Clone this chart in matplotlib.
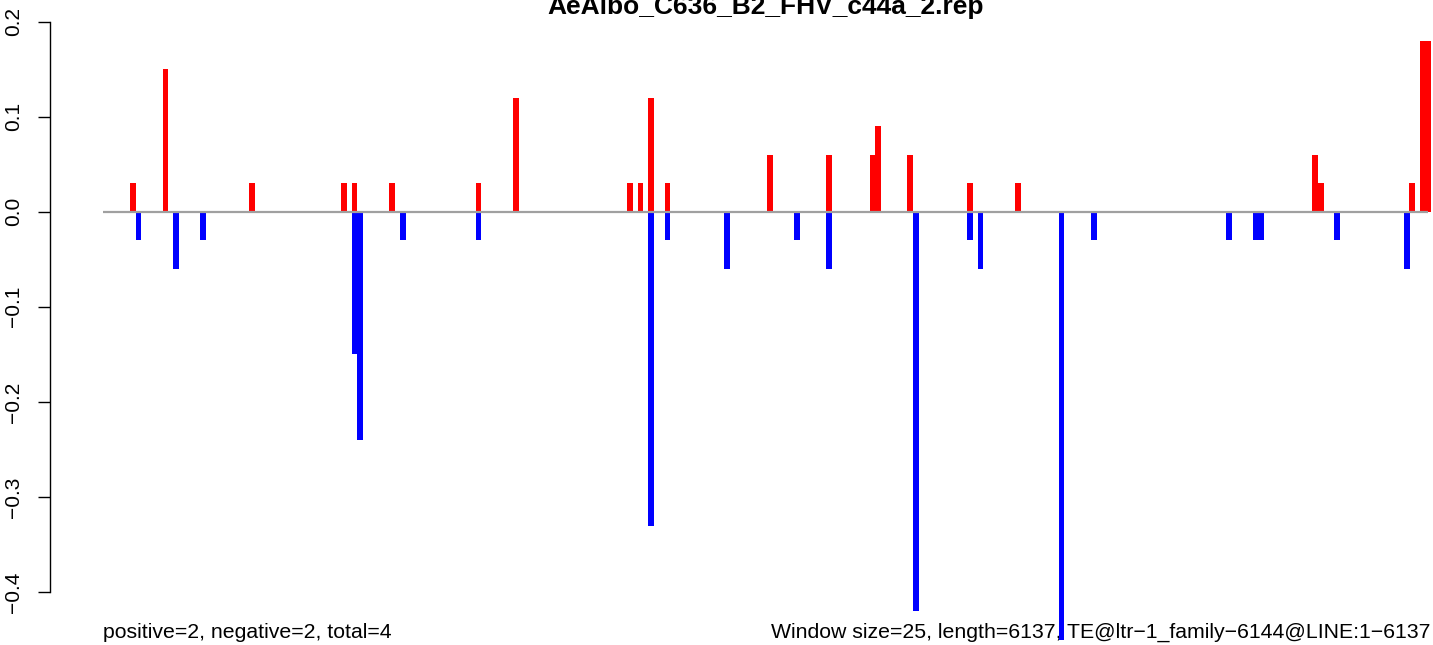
import matplotlib
matplotlib.use('Agg')
import matplotlib.pyplot as plt


# Sequence / window info
seq_length = 6137
window = 25
n_windows = 246

# window index (0-based) and value of each non-empty window
pos_idx = [5, 11, 27, 44, 46, 53, 69, 76, 97, 99, 101, 104, 123, 134, 142, 143,
           149, 160, 169, 224, 225, 242, 244, 245]
pos_val = [0.03, 0.15, 0.03, 0.03, 0.03, 0.03, 0.03, 0.12, 0.03, 0.03, 0.12, 0.03,
           0.06, 0.06, 0.06, 0.09, 0.06, 0.03, 0.03, 0.06, 0.03, 0.03, 0.18, 0.18]

neg_idx = [6, 13, 18, 46, 47, 55, 69, 101, 104, 115, 128, 134, 150, 160, 162, 177,
           183, 208, 213, 214, 228, 241]
neg_val = [-0.03, -0.06, -0.03, -0.15, -0.24, -0.03, -0.03, -0.33, -0.03, -0.06,
           -0.03, -0.06, -0.42, -0.03, -0.06, -0.45, -0.03, -0.03, -0.03, -0.03,
           -0.03, -0.06]

yticks = [-0.4, -0.3, -0.2, -0.1, 0.0, 0.1, 0.2]

title = 'AeAlbo_C636_B2_FHV_c44a_2.rep'
left_note = 'positive=2, negative=2, total=4'
right_note = ('Window size=25, length=6137, '
              'TE@ltr\u22121_family\u22126144@LINE:1\u22126137')

plt.rcParams['font.family'] = ['Liberation Sans', 'DejaVu Sans']

W, H = 1433, 645
fig = plt.figure(figsize=(W / 100, H / 100), dpi=100)
# plot region runs past the right edge of the picture (cropped R output)
ax = fig.add_axes([50 / W, 0, (1481 - 50) / W, 1])

pad = 0.04 * seq_length
ax.set_xlim(-pad, seq_length + pad)
ax.set_ylim(-(H - 211.7) / 951, 211.7 / 951)

ax.bar([i * window + 1 for i in pos_idx], pos_val, width=27, align='edge',
       color='#ff0000', linewidth=0, zorder=2)
ax.bar([i * window + 1 for i in neg_idx], neg_val, width=27, align='edge',
       color='#0000ff', linewidth=0, zorder=2)
ax.plot([0, seq_length], [0, 0], color='#a0a0a0', lw=1.6, zorder=3,
        solid_capstyle='butt')

for side in ['top', 'right', 'bottom']:
    ax.spines[side].set_visible(False)
ax.spines['left'].set_bounds(yticks[0], yticks[-1])
ax.spines['left'].set_linewidth(1.0)
ax.set_xticks([])
ax.set_yticks(yticks)
ax.set_yticklabels([f'{t:.1f}'.replace('-', '\u2212') for t in yticks],
                   rotation=90, va='center', fontsize=15)
ax.tick_params(axis='y', length=8.6, width=1.0, pad=10.5)

ax.text(0.5, 1 - 14 / H, title, transform=ax.transAxes, ha='center',
        va='baseline', fontsize=19, fontweight='bold')
ax.text(0, -(638 - 211.7) / 951, left_note, ha='left', va='baseline',
        fontsize=15.3, zorder=1)
ax.text(n_windows * window, -(638 - 211.7) / 951, right_note, ha='right',
        va='baseline', fontsize=15.3, zorder=1)

fig.savefig('out.png', dpi=100)
